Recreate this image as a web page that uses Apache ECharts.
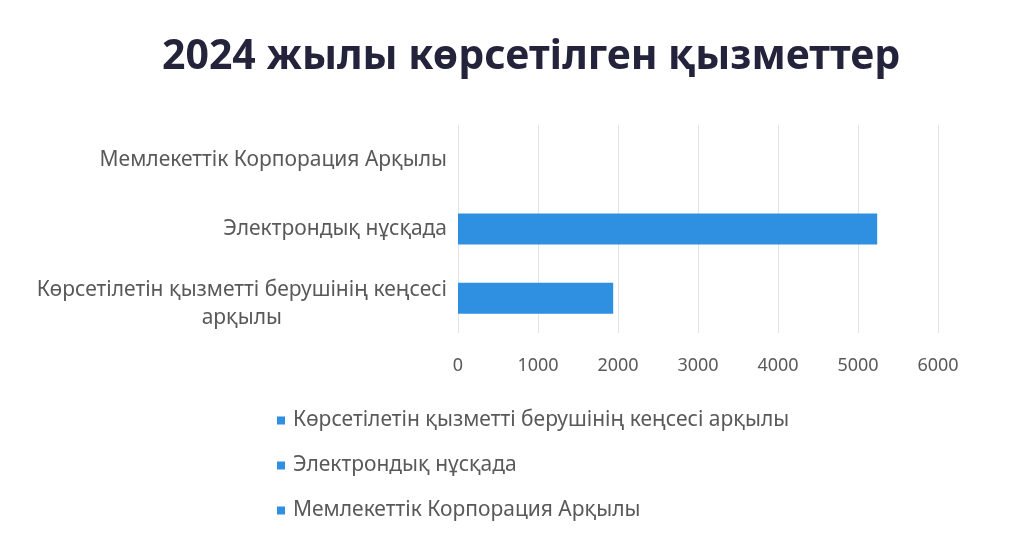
<!DOCTYPE html>
<html>
<head>
<meta charset="utf-8">
<script src="https://cdn.jsdelivr.net/npm/echarts@6/dist/echarts.min.js"></script>
<style>
  html, body { margin: 0; padding: 0; background: #fff; }
  #main { width: 1035px; height: 533px; }
</style>
</head>
<body>
<div id="main"></div>
<script>
// categories from bottom to top, as Excel draws them
const categories = [
  "Көрсетілетін қызметті берушінің кеңсесі арқылы",
  "Электрондық нұсқада",
  "Мемлекеттік Корпорация Арқылы"
];
const values = [1940, 5240, 0];
const xTicks = { min: 0, max: 6000, interval: 1000 };
const titleText = "2024 жылы көрсетілген қызметтер";

const barColor = "#2F8FE0";
const textColor = "#595959";

// one series per category so each shows up in the legend
let series = [];
for (let i = 0; i < categories.length; i++) {
  let d = categories.map(function (c, j) { return j === i ? values[i] : "-"; });
  series.push({
    name: categories[i],
    type: "bar",
    stack: "all",
    data: d,
    barWidth: 31,
    itemStyle: { color: barColor }
  });
}

let myChart = echarts.init(document.getElementById("main"));
let option = {
  backgroundColor: "#fff",
  animation: false,
  title: {
    text: titleText,
    left: 157,
    top: 32,
    textStyle: {
      fontFamily: "Noto Sans",
      fontWeight: "bold",
      fontSize: 41,
      color: "#23233c"
    }
  },
  legend: {
    orient: "vertical",
    left: 272,
    top: 405,
    itemGap: 24,
    itemWidth: 8,
    itemHeight: 8,
    icon: "rect",
    data: categories.slice(),
    textStyle: { fontFamily: "Noto Sans", fontSize: 21, color: textColor, padding: [0, 0, 0, 3] }
  },
  grid: { left: 458, right: 97, top: 125, bottom: 200, containLabel: false },
  xAxis: {
    type: "value",
    min: xTicks.min,
    max: xTicks.max,
    interval: xTicks.interval,
    axisLine: { show: false },
    axisTick: { show: false },
    splitLine: { lineStyle: { color: "#e3e3e3" } },
    axisLabel: {
      margin: 24,
      fontFamily: "Noto Sans",
      fontSize: 18,
      color: textColor,
      formatter: function (v) { return String(v); }
    }
  },
  yAxis: {
    type: "category",
    data: categories,
    axisLine: { show: false },
    axisTick: { show: false },
    axisLabel: {
      margin: 11,
      formatter: function (v) {
        if (v.length > 35) {
          let k = v.lastIndexOf(" ");
          // small spacer line on top pushes the two-line label down a bit
          return "{s| }\n{a|" + v.slice(0, k) + "}\n{a|" + v.slice(k + 1) + "}";
        }
        return "{a|" + v + "}";
      },
      rich: {
        a: { align: "center", fontFamily: "Noto Sans", fontSize: 21, color: textColor, lineHeight: 28 },
        s: { fontSize: 1, lineHeight: 12 }
      }
    }
  },
  series: series
};
if (option && typeof option === "object") myChart.setOption(option);
</script>
</body>
</html>
